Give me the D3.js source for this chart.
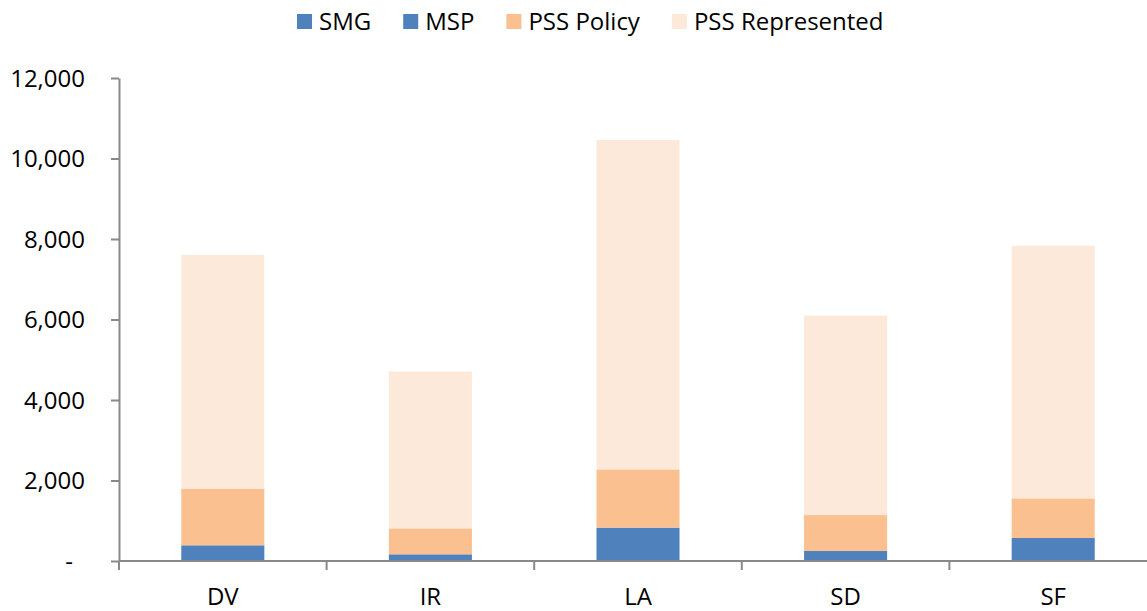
<!doctype html>
<html>

<head>
    <style>
        body {
            margin: 0;
            background: #fff;
        }

        svg text {
            font-family: "Open Sans", "Noto Sans", sans-serif;
            font-size: 24px;
            fill: #000;
        }

        .axis path,
        .axis line {
            stroke: #898989;
            stroke-width: 2px;
        }
    </style>
    <script src="https://d3js.org/d3.v7.min.js"></script>
</head>

<body>
    <svg width="1147" height="611"></svg>
    <script>

        // data
        var regions = ["DV", "IR", "LA", "SD", "SF"];
        var smg = [390, 166, 829, 248, 571];
        var msp = [0, 0, 0, 0, 0];
        var pssPolicy = [1407, 645, 1446, 893, 985];
        var pssRepresented = [5806, 3898, 8185, 4956, 6278];
        var yTicks = [0, 2000, 4000, 6000, 8000, 10000, 12000];

        var seriesNames = ["SMG", "MSP", "PSS Policy", "PSS Represented"];
        var colors = ["#4f81bd", "#4f81bd", "#fac090", "#fde9d9"];

        var svg = d3.select("svg");

        // plot edges (note: "top" is reserved on window)
        var plotLeft = 119, plotRight = 1157, plotTop = 78, plotBottom = 561;

        var x = d3.scaleBand()
            .domain(regions)
            .range([plotLeft, plotRight])
            .paddingInner(0.6)
            .paddingOuter(0.3);

        var y = d3.scaleLinear()
            .domain([0, 12000])
            .range([plotBottom, plotTop]);

        // build rows for the stack
        var rows = regions.map(function (r, i) {
            return {
                region: r,
                "SMG": smg[i],
                "MSP": msp[i],
                "PSS Policy": pssPolicy[i],
                "PSS Represented": pssRepresented[i]
            };
        });

        var stacked = d3.stack().keys(seriesNames)(rows);

        svg.append("g")
            .selectAll("g")
            .data(stacked)
            .enter().append("g")
            .attr("fill", (d, i) => colors[i])
            .selectAll("rect")
            .data(d => d)
            .enter().append("rect")
            .attr("x", d => x(d.data.region))
            .attr("y", d => y(d[1]))
            .attr("width", x.bandwidth())
            .attr("height", d => y(d[0]) - y(d[1]));

        // y axis
        var yAxis = svg.append("g")
            .attr("class", "axis")
            .attr("transform", "translate(" + plotLeft + ",0)")
            .call(d3.axisLeft(y)
                .tickValues(yTicks)
                .tickSize(8)
                .tickSizeOuter(0)
                .tickPadding(26)
                .tickFormat(d => d === 0 ? "-" : d3.format(",")(d)));

        yAxis.selectAll("text")
            .attr("dy", "0.35em")
            .attr("dx", d => d === 0 ? -12 : 0);

        // x axis: line, boundary ticks, centred labels
        var xAxis = svg.append("g").attr("class", "axis");

        xAxis.append("line")
            .attr("x1", plotLeft)
            .attr("x2", 1147)
            .attr("y1", plotBottom)
            .attr("y2", plotBottom);

        var step = x.step();
        xAxis.selectAll(".tick-b")
            .data(regions)
            .enter().append("line")
            .attr("class", "tick-b")
            .attr("x1", d => x(d) - step * x.paddingOuter())
            .attr("x2", d => x(d) - step * x.paddingOuter())
            .attr("y1", plotBottom)
            .attr("y2", plotBottom + 9);

        svg.append("g")
            .selectAll("text")
            .data(regions)
            .enter().append("text")
            .attr("x", d => x(d) + x.bandwidth() / 2)
            .attr("y", 605)
            .attr("text-anchor", "middle")
            .text(d => d);

        // legend
        var legend = svg.append("g");
        var lx = 297;
        seriesNames.forEach(function (name, i) {
            legend.append("rect")
                .attr("x", lx)
                .attr("y", 14)
                .attr("width", 15)
                .attr("height", 15)
                .attr("fill", colors[i]);
            var t = legend.append("text")
                .attr("x", lx + 22)
                .attr("y", 30)
                .text(name);
            lx += 22 + t.node().getComputedTextLength() + 32;
        });
    </script>
</body>

</html>
